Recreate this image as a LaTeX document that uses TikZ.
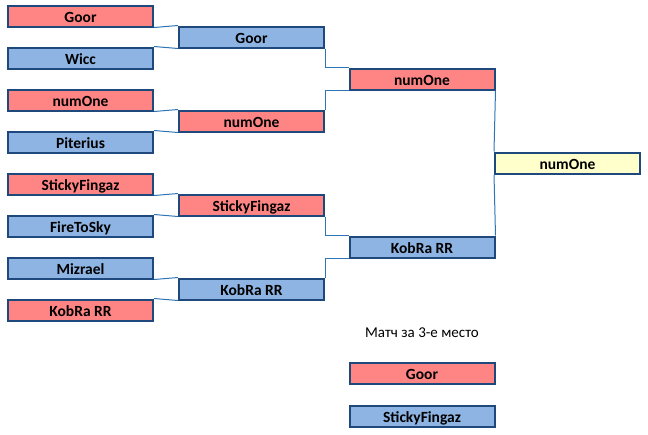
\documentclass[tikz,border=0pt]{standalone}
\usepackage{fontspec}
\setmainfont{Carlito}
\definecolor{redf}{HTML}{FF8585}
\definecolor{bluef}{HTML}{8DB4E2}
\definecolor{yelf}{HTML}{FFFFCC}
\definecolor{bord}{HTML}{1F497D}
\definecolor{conn}{HTML}{2E75B6}
\begin{document}
\begin{tikzpicture}[x=1pt,y=-1pt,
  team/.style={draw=bord, line width=2pt, minimum width=145pt, minimum height=21pt, inner sep=0pt, text height=13pt, text depth=0pt, font=\bfseries\fontsize{15.5}{15.5}\selectfont, text=black},
  red/.style={team, fill=redf},
  blue/.style={team, fill=bluef},
  yel/.style={team, fill=yelf},
  link/.style={draw=conn, line width=1pt}]
\useasboundingbox (0,0) rectangle (648,434);
% round 1
\node[red]  (a1) at (80.5,16)  {Goor};
\node[blue] (a2) at (80.5,58)  {Wicc};
\node[red]  (a3) at (80.5,100) {numOne};
\node[blue] (a4) at (80.5,142) {Piterius};
\node[red]  (a5) at (80.5,184) {StickyFingaz};
\node[blue] (a6) at (80.5,226) {FireToSky};
\node[blue] (a7) at (80.5,268) {Mizrael};
\node[red]  (a8) at (80.5,310) {KobRa RR};
% round 2
\node[blue] (b1) at (251.5,37)  {Goor};
\node[red]  (b2) at (251.5,121) {numOne};
\node[red]  (b3) at (251.5,205) {StickyFingaz};
\node[blue] (b4) at (251.5,289) {KobRa RR};
% round 3
\node[red]  (c1) at (422,79)  {numOne};
\node[blue] (c2) at (422,247) {KobRa RR};
% final
\node[yel]  (f)  at (567.5,163) {numOne};
% third place
\node[font=\fontsize{15}{15}\selectfont] (t) at (422,333) {Матч за 3-е место};
\node[red]  (g1) at (422,373) {Goor};
\node[blue] (g2) at (422,416) {StickyFingaz};
% connectors
\draw[link] (a1.south east) -- (b1.north west);
\draw[link] (a2.north east) -- (b1.south west);
\draw[link] (a3.south east) -- (b2.north west);
\draw[link] (a4.north east) -- (b2.south west);
\draw[link] (a5.south east) -- (b3.north west);
\draw[link] (a6.north east) -- (b3.south west);
\draw[link] (a7.south east) -- (b4.north west);
\draw[link] (a8.north east) -- (b4.south west);
\draw[link] (b1.south east) |- (c1.north west);
\draw[link] (b2.north east) |- (c1.south west);
\draw[link] (b3.south east) |- (c2.north west);
\draw[link] (b4.north east) |- (c2.south west);
\draw[link] (c1.south east) -- (f.north west);
\draw[link] (c2.north east) -- (f.south west);
\end{tikzpicture}
\end{document}
